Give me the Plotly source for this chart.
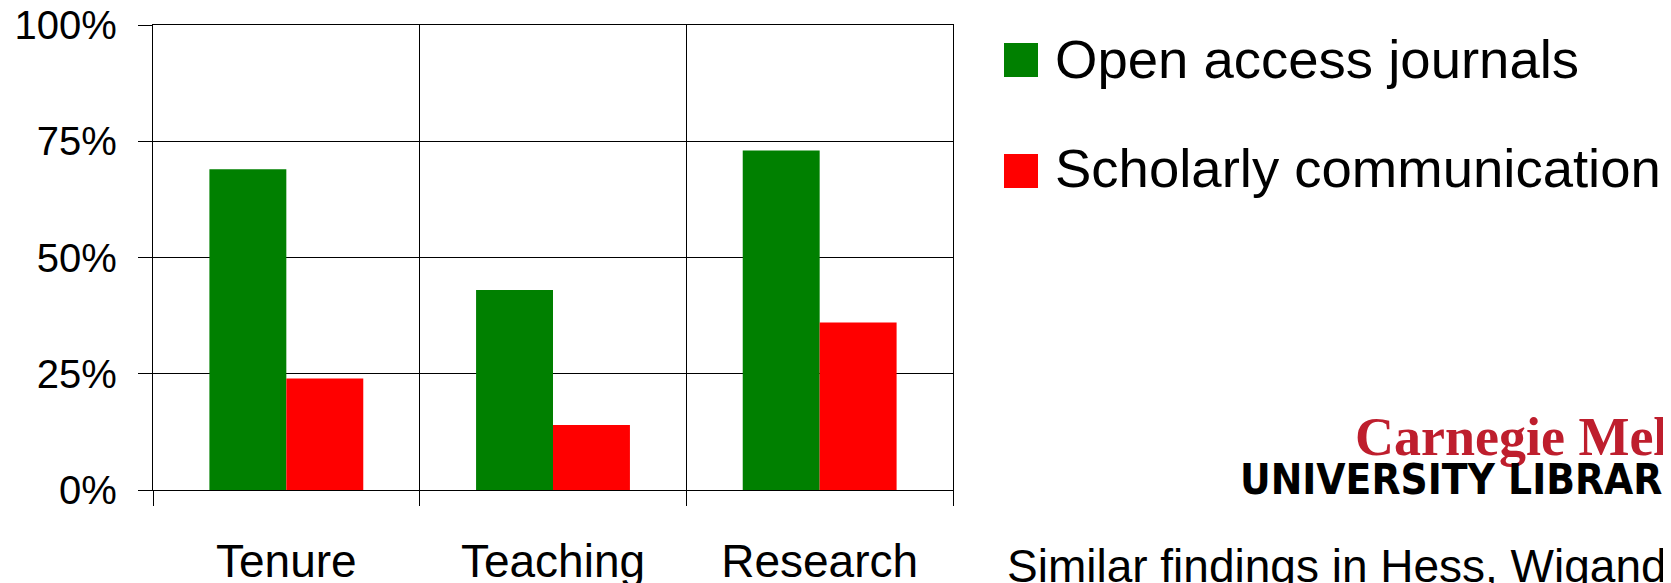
import plotly.graph_objects as go

categories = ["Tenure", "Teaching", "Research"]
series_names = ["Open access journals", "Scholarly communication"]
open_access = [0.69, 0.43, 0.73]
scholarly = [0.24, 0.14, 0.36]
y_ticks = [0, 0.25, 0.5, 0.75, 1.0]
y_tick_labels = ["0%", "25%", "50%", "75%", "100%"]
colors = ["#008000", "#FF0000"]
note_text = "Similar findings in Hess, Wigand, Belanger and others"
logo_top = "Carnegie Mellon"
logo_bottom = "UNIVERSITY LIBRARIES"

OFF = 8  # page body margin offset of the figure div
W, H = 1671, 583
L, R, T, B = 153 - OFF, 953 - OFF, 25 - OFF, 490 - OFF  # plot area in figure pixels

def px_x(x):
    return (x - OFF - L) / (R - L)

def px_y(y):
    return (B - (y - OFF)) / (B - T)

fig = go.Figure()
for name, vals, col in zip(series_names, [open_access, scholarly], colors):
    fig.add_trace(go.Bar(x=categories, y=vals, name=name, marker_color=col,
                         marker_line_width=0, showlegend=False))

fig.update_layout(
    width=W, height=H,
    margin=dict(l=L, r=W - R, t=T, b=H - B, pad=0, autoexpand=False),
    paper_bgcolor="white", plot_bgcolor="white",
    barmode="group", bargap=0.423, bargroupgap=0,
    font=dict(family="Arial, Liberation Sans, sans-serif", color="black"),
)
fig.update_xaxes(
    automargin=False, ticklabeloverflow="allow",
    showline=True, linecolor="black", linewidth=1.3, mirror=True,
    showgrid=True, gridcolor="black", gridwidth=1.3,
    tickson="boundaries", ticks="outside", ticklen=15, tickwidth=1.3, tickcolor="black",
    tickfont=dict(size=46), ticklabelstandoff=31,
)
fig.update_yaxes(
    automargin=False, ticklabeloverflow="allow",
    range=[0, 1], tickvals=y_ticks, ticktext=y_tick_labels,
    showline=True, linecolor="black", linewidth=1.3, mirror=True,
    showgrid=True, gridcolor="black", gridwidth=1.3, zeroline=False,
    ticks="outside", ticklen=14, tickwidth=1.3, tickcolor="black",
    tickfont=dict(size=40), ticklabelstandoff=13,
)

# custom legend
legend_rows = [(43, 77, 59), (154, 188, 168)]
for (y0, y1, yc), name, col in zip(legend_rows, series_names, colors):
    fig.add_shape(type="rect", xref="paper", yref="paper",
                  x0=px_x(1004), x1=px_x(1038), y0=px_y(y1), y1=px_y(y0),
                  fillcolor=col, line_width=0)
    fig.add_annotation(x=px_x(1053), y=px_y(yc), xref="paper", yref="paper",
                       text=name, showarrow=False, xanchor="left", yanchor="middle",
                       font=dict(size=54.5, color="black"))

# logo
fig.add_annotation(x=px_x(1353), y=px_y(437), xref="paper", yref="paper",
                   text="<b>" + logo_top + "</b>", showarrow=False,
                   xanchor="left", yanchor="middle",
                   font=dict(size=54, color="#BE1E2D",
                             family="Liberation Serif, Times New Roman, serif"))
fig.add_annotation(x=px_x(1238), y=px_y(479), xref="paper", yref="paper",
                   text="<b>" + logo_bottom + "</b>", showarrow=False,
                   xanchor="left", yanchor="middle",
                   font=dict(size=42, color="black",
                             family="Liberation Sans Narrow, DejaVu Sans Condensed, Arial Narrow, sans-serif"))

# note text
fig.add_annotation(x=px_x(1005), y=px_y(566), xref="paper", yref="paper",
                   text=note_text, showarrow=False, xanchor="left", yanchor="middle",
                   font=dict(size=46, color="black"))

fig.write_html("out.html")
